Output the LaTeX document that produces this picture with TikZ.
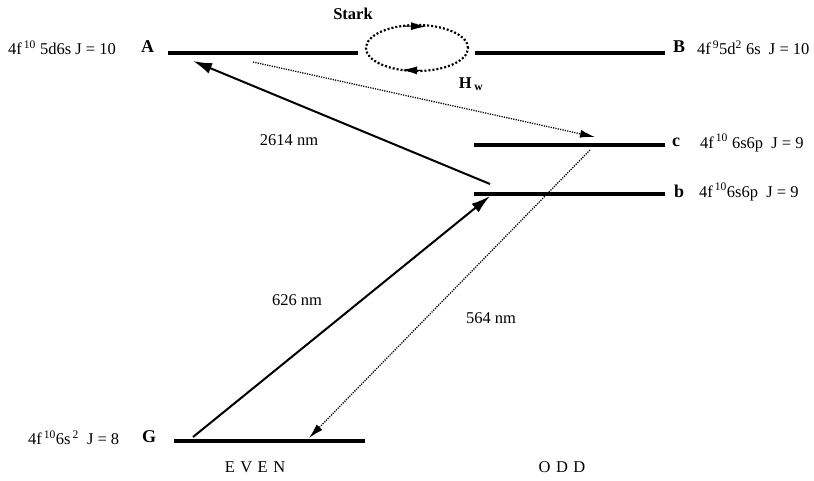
\documentclass[tikz,border=0pt]{standalone}
\usepackage{fontspec}
\setmainfont{Liberation Serif}
\usetikzlibrary{arrows.meta}
\begin{document}
\begin{tikzpicture}[x=1pt,y=-1pt,
  level/.style={line width=4.5pt},
  txt/.style={inner sep=0pt,font=\fontsize{16.5}{18}\selectfont},
  lbl/.style={inner sep=0pt,font=\fontsize{18}{20}\selectfont\bfseries},
  solidarrow/.style={line width=2pt,-{Latex[length=19pt,width=11pt]}},
  dotarrow/.style={line width=1.3pt,dash pattern=on 1.2pt off 1.2pt,-{Latex[length=15pt,width=8pt]}}]
\useasboundingbox (0,0) rectangle (814,480);
% levels
\coordinate (A1) at (168,53); \coordinate (A2) at (358,53);
\coordinate (B1) at (475,53); \coordinate (B2) at (665,53);
\coordinate (c1) at (474,145); \coordinate (c2) at (665,145);
\coordinate (b1) at (474,194); \coordinate (b2) at (665,194);
\coordinate (G1) at (174,441); \coordinate (G2) at (365,441);
\draw[level] (A1) -- (A2);
\draw[level] (B1) -- (B2);
\draw[level] (c1) -- (c2);
\draw[level] (b1) -- (b2);
\draw[level] (G1) -- (G2);
% labels
\node[txt,anchor=west] (tA) at (8,48) {4f\textsuperscript{\,10} 5d6s J = 10};
\node[lbl,anchor=west] (lA) at (141,47) {A};
\node[lbl,anchor=west] (lB) at (673,47) {B};
\node[txt,anchor=west] (tB) at (697,48) {4f\textsuperscript{\,9}5d\textsuperscript{2} 6s\enspace J = 10};
\node[lbl,anchor=west] (lc) at (672,142) {c};
\node[txt,anchor=west] (tc) at (700,143) {4f\textsuperscript{\,10} 6s6p\enspace J = 9};
\node[lbl,anchor=west] (lb) at (674,191) {b};
\node[txt,anchor=west] (tb) at (699,192) {4f\textsuperscript{\,10}6s6p\enspace J = 9};
\node[txt,anchor=west] (tG) at (28,438) {4f\textsuperscript{\,10}6s\textsuperscript{\,2}\enspace J = 8};
\node[lbl,anchor=west] (lG) at (142,437) {G};
\node[txt] (even) at (255,467) {E\,\,V\,\,E\,\,N};
\node[txt] (odd) at (562,467) {O\,\,D\,\,D};
\node[lbl,font=\fontsize{16.5}{18}\selectfont\bfseries] (stark) at (353,14) {Stark};
\node[lbl,font=\fontsize{16.5}{18}\selectfont\bfseries] (hw) at (471,84) {H\,\textsubscript{w}};
% ellipse
\coordinate (E) at (417,48);
\draw[line width=2.2pt,dash pattern=on 2pt off 2pt] (E) ellipse [x radius=51pt,y radius=23pt];
\coordinate (et1) at (403,26); \coordinate (et2) at (426,26.5);
\coordinate (eb1) at (422,70.5); \coordinate (eb2) at (402,70);
\draw[-{Latex[length=15pt,width=8pt]},line width=1pt] (et1) -- (et2);
\draw[-{Latex[length=15pt,width=8pt]},line width=1pt] (eb1) -- (eb2);
% transitions
\coordinate (s626) at (193,437); \coordinate (e626) at (490,196);
\coordinate (s2614) at (490,184); \coordinate (e2614) at (193,61);
\coordinate (sdAc) at (253,62); \coordinate (edAc) at (595,137);
\coordinate (sdG) at (590,150); \coordinate (edG) at (309,438);
\draw[solidarrow] (s626) -- (e626);
\draw[solidarrow] (s2614) -- (e2614);
\draw[dotarrow] (sdAc) -- (edAc);
\draw[dotarrow] (sdG) -- (edG);
\node[txt] (n2614) at (289,140) {2614 nm};
\node[txt] (n626) at (297,300) {626 nm};
\node[txt] (n564) at (491,318) {564 nm};
\end{tikzpicture}
\end{document}
